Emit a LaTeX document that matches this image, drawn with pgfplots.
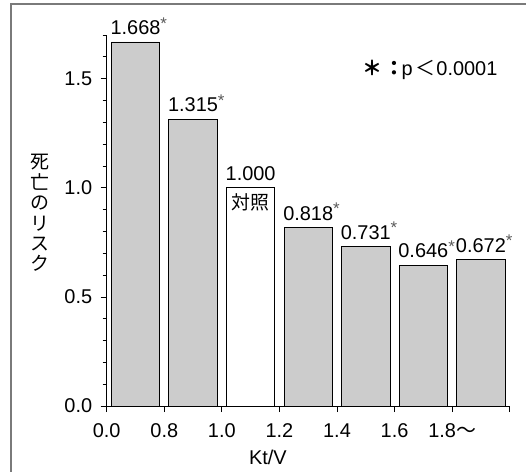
\documentclass[border=0pt]{standalone}
\usepackage{pgfplots}
\pgfplotsset{compat=1.18}
\usepackage{fontspec}
\setmainfont{Liberation Sans}
\newfontfamily\cjk{Noto Sans CJK JP}
\definecolor{barfill}{RGB}{204,204,204}
\definecolor{framegray}{RGB}{122,122,122}
\definecolor{astgray}{RGB}{90,90,90}
\newcommand{\sigast}{\rlap{\raisebox{5.5bp}{\fontsize{17}{17}\selectfont\color{astgray}*}}}
\begin{document}
\begin{tikzpicture}[x=1bp,y=1bp]
\useasboundingbox (-106.7,-66) rectangle (419.3,406);
\draw[framegray, line width=2bp] (-95.7,-80) -- (-95.7,402) -- (430,402);
\begin{axis}[
  at={(0,0)}, anchor=origin,
  scale only axis, width=403bp, height=371bp,
  xmin=0, xmax=7, ymin=0, ymax=1.7,
  axis x line*=bottom, axis y line*=left,
  axis line style={-, black, line width=0.8bp},
  tick align=outside,
  major tick length=6bp, minor tick length=4bp,
  tick style={black, line width=0.7bp},
  xtick={0,1,2,3,4,5,6,7},
  xticklabels={0.0,0.8,1.0,1.2,1.4,1.6,{1.8{\cjk 〜}},{}},
  ytick={0,0.5,1.0,1.5},
  yticklabels={0.0,0.5,1.0,1.5},
  minor ytick={0.1,0.2,0.3,0.4,0.6,0.7,0.8,0.9,1.1,1.2,1.3,1.4,1.6,1.7},
  /pgf/number format/assume math mode=true,
  ticklabel style={font=\fontsize{20}{20}\selectfont},
  xticklabel shift=8bp,
  yticklabel shift=5bp,
  xlabel={Kt/V},
  every axis x label/.style={at={(axis cs:2.8,0)}, anchor=base, yshift=-58bp, font=\fontsize{20}{20}\selectfont},
  ylabel={死\\亡\\の\\リ\\ス\\ク},
  every axis y label/.style={at={(axis cs:0,0.884)}, xshift=-66.7bp, anchor=center, align=center, font=\cjk\fontsize{19}{20.5}\selectfont},
  clip=false,
]
\addplot[ybar, bar shift=0pt, bar width=0.84, fill=barfill, draw=black, line width=0.8bp,
  point meta=y,
  nodes near coords={\pgfmathprintnumber[fixed,fixed zerofill,precision=3]{\pgfplotspointmeta}\sigast},
  every node near coord/.append style={font=\fontsize{20}{20}\selectfont, inner sep=0pt, yshift=6.5bp, black}]
  coordinates {(0.5,1.668) (1.5,1.315) (3.5,0.818) (4.5,0.731) (5.5,0.646) (6.5,0.672)};
\addplot[ybar, bar shift=0pt, bar width=0.84, fill=white, draw=black, line width=0.8bp,
  point meta=y,
  nodes near coords={\pgfmathprintnumber[fixed,fixed zerofill,precision=3]{\pgfplotspointmeta}},
  every node near coord/.append style={font=\fontsize{20}{20}\selectfont, inner sep=0pt, yshift=6.5bp, black}]
  coordinates {(2.5,1.000)};
\node[anchor=north, font=\cjk\fontsize{19}{20}\selectfont, inner sep=0pt, yshift=-6bp] at (axis cs:2.5,1.0) {対照};
\node[anchor=base, inner sep=0pt, font=\cjk\bfseries\fontsize{20}{20}\selectfont] at (axis cs:4.617,1.516) {＊};
\node[anchor=base, inner sep=0pt, font=\cjk\bfseries\fontsize{20}{20}\selectfont] at (axis cs:4.999,1.516) {：};
\node[anchor=base west, inner sep=0pt, font=\fontsize{20}{20}\selectfont] at (axis cs:5.121,1.516) {p};
\node[anchor=base, inner sep=0pt, font=\cjk\fontsize{20}{20}\selectfont] at (axis cs:5.538,1.516) {＜};
\node[anchor=base east, inner sep=0pt, font=\fontsize{20}{20}\selectfont] at (axis cs:6.79,1.516) {0.0001};
\end{axis}
\end{tikzpicture}
\end{document}
